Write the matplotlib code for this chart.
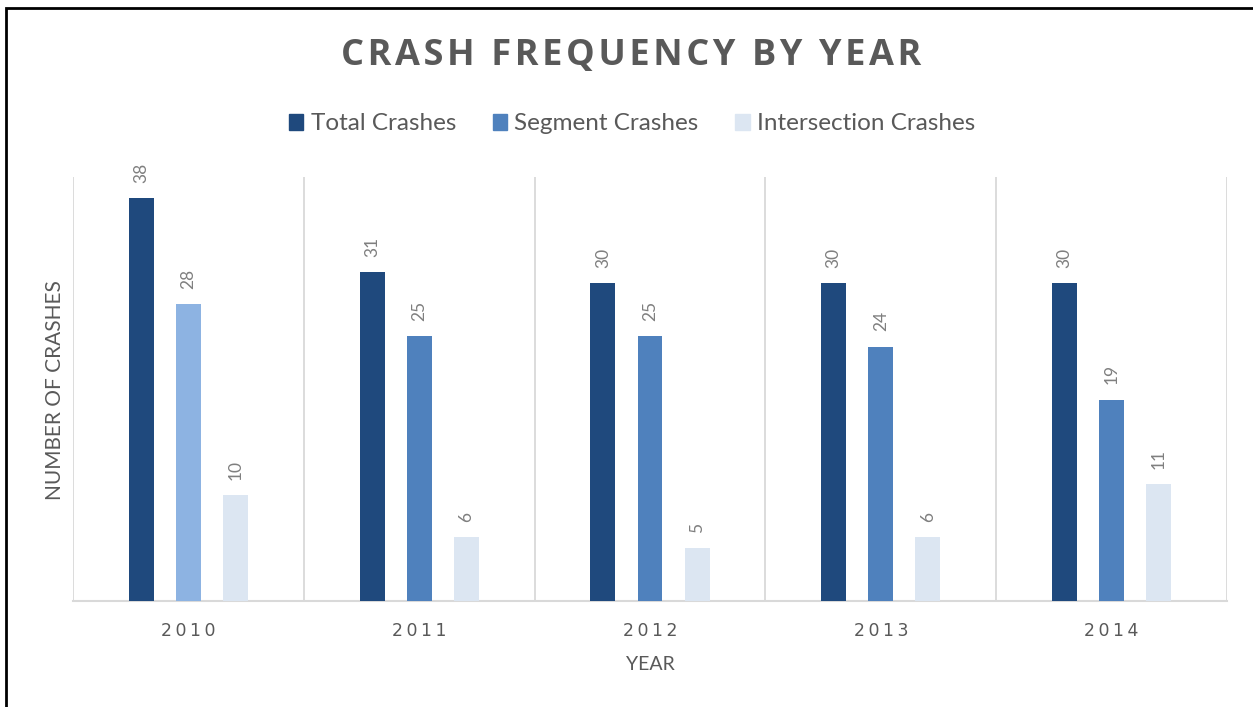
import numpy as np
import matplotlib.pyplot as plt
from matplotlib.patches import Patch, Rectangle

years = ["2010", "2011", "2012", "2013", "2014"]
total_crashes = [38, 31, 30, 30, 30]
segment_crashes = [28, 25, 25, 24, 19]
intersection_crashes = [10, 6, 5, 6, 11]
series_names = ["Total Crashes", "Segment Crashes", "Intersection Crashes"]
title = "CRASH FREQUENCY BY YEAR"

# colours (2010 segment bar is lighter in the original)
c_total = "#1F497D"
c_segment = ["#8DB3E2", "#4F81BD", "#4F81BD", "#4F81BD", "#4F81BD"]
c_inter = "#DCE6F2"
grey_txt = "#595959"
lbl_grey = "#7F7F7F"
grid_c = "#D9D9D9"

plt.rcParams["font.family"] = ["Lato", "DejaVu Sans"]

W, H = 1253, 707
fig = plt.figure(figsize=(W / 100, H / 100), dpi=100)
ax = fig.add_axes([73 / W, 1 - 601 / H, (1227 - 73) / W, (601 - 177) / H])

x = np.arange(len(years))
bw = 0.108
step = 0.204

groups = [
    (x - step, total_crashes, c_total),
    (x, segment_crashes, c_segment),
    (x + step, intersection_crashes, c_inter),
]
for xs, vals, col in groups:
    bars = ax.bar(xs, vals, width=bw, color=col, zorder=3)
    for b, v in zip(bars, vals):
        ax.annotate(str(v), (b.get_x() + b.get_width() / 2, v),
                    xytext=(0, 11), textcoords="offset points",
                    rotation=90, ha="center", va="bottom",
                    fontsize=12.5, color=lbl_grey)

ax.set_xlim(-0.5, len(years) - 0.5)
ax.set_ylim(0, 40)
ax.set_yticks([])
ax.set_xticks(x)
ax.set_xticklabels(["\u2009".join(y) for y in years], fontsize=12.5,
                   color=grey_txt, family=["DejaVu Sans"])
ax.set_xticks(np.arange(-0.5, len(years), 1), minor=True)
ax.tick_params(axis="x", which="both", length=0, pad=15)
ax.grid(which="minor", axis="x", color=grid_c, lw=1.3, zorder=0)

for s in ["top", "right", "left"]:
    ax.spines[s].set_visible(False)
ax.spines["bottom"].set_color(grid_c)
ax.spines["bottom"].set_linewidth(1.5)

# letter-spaced bold title
spaced_title = " \u2009".join("\u200a".join(w) for w in title.split())
fig.text(631 / W, 1 - 56 / H, spaced_title,
         ha="center", va="center", fontsize=26, fontweight="bold",
         color=grey_txt, family=["Open Sans", "DejaVu Sans"])

fig.text(650 / W, 1 - 665 / H, "YEAR", ha="center", va="center",
         fontsize=14, color=grey_txt)
fig.text(55 / W, 1 - 390 / H, "NUMBER OF CRASHES", ha="center", va="center",
         rotation=90, fontsize=15, color=grey_txt)

handles = [Patch(color=c_total), Patch(color="#4F81BD"), Patch(color=c_inter)]
fig.legend(handles, series_names, loc="center", ncol=3,
           bbox_to_anchor=(632 / W, 1 - 124 / H), frameon=False,
           fontsize=17.5, labelcolor=grey_txt, handlelength=0.6,
           handleheight=0.6, handletextpad=0.3, columnspacing=1.5)

# border around the chart area
fig.patches.append(Rectangle((6 / W, -0.1), 1.2, 1 - 8 / H + 0.1,
                             transform=fig.transFigure, fill=False,
                             edgecolor="black", lw=2))

fig.savefig("out.png", dpi=100)
